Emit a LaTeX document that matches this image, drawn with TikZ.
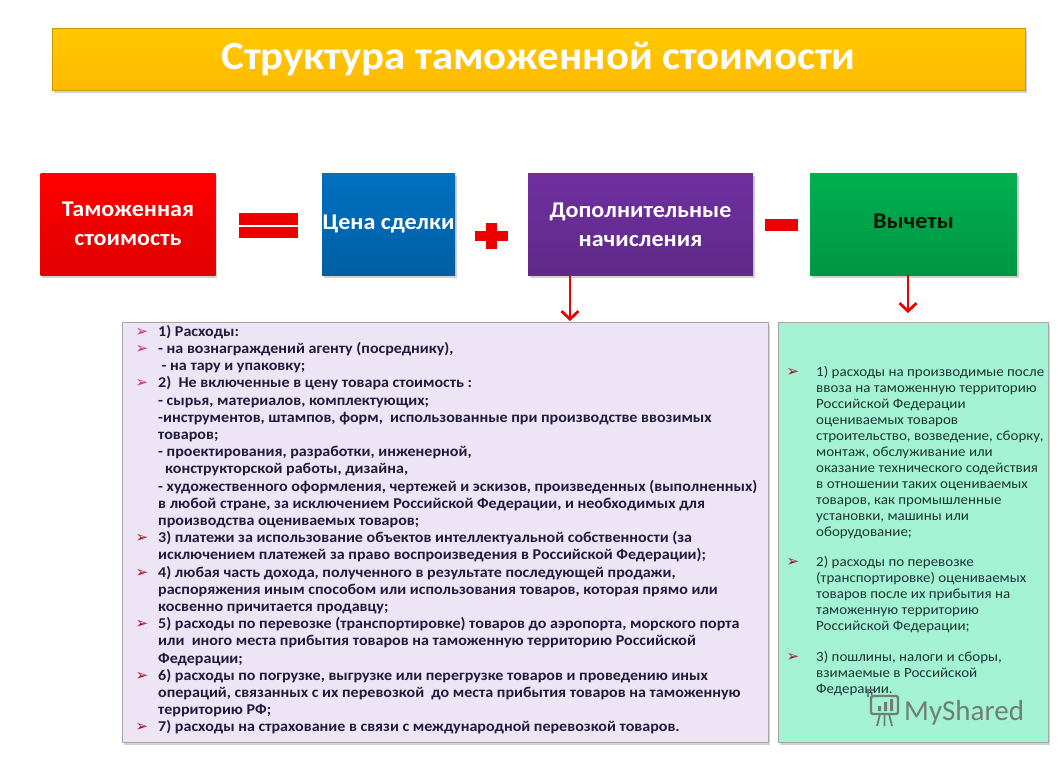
\documentclass[tikz,border=0pt]{standalone}
\usepackage{fontspec}
\setmainfont{Carlito}[FakeStretch=1.07]
\newfontfamily\dejavu{DejaVu Sans}
\newfontfamily\wmfont{Carlito}
\usetikzlibrary{arrows.meta,shadows}
\definecolor{titlegold}{HTML}{FFC000}
\definecolor{boxred}{HTML}{FF0000}
\definecolor{boxblue}{HTML}{0070C0}
\definecolor{boxpurple}{HTML}{7030A0}
\definecolor{boxgreen}{HTML}{00B050}
\definecolor{oprred}{HTML}{EE0000}
\definecolor{lavender}{HTML}{EDE4F5}
\definecolor{mint}{HTML}{A3F2D4}
\definecolor{ltextc}{HTML}{1F1B3A}
\definecolor{rtextc}{HTML}{1C3535}
\definecolor{bulA}{HTML}{C8306A}
\definecolor{bulB}{HTML}{A80F28}
\definecolor{wmark}{HTML}{6F7E78}
\newcommand\BA{\llap{\textcolor{bulA}{\dejavu\bfseries\fontsize{15}{15}\selectfont ➢}\hspace{10pt}}}
\newcommand\BB{\llap{\textcolor{bulB}{\dejavu\bfseries\fontsize{15}{15}\selectfont ➢}\hspace{10pt}}}
\newcommand\BR{\llap{\textcolor{bulB}{\dejavu\bfseries\fontsize{15}{15}\selectfont ➢}\hspace{17pt}}}
\tikzset{
  shad/.style={drop shadow={shadow xshift=1.5pt,shadow yshift=-2.5pt,opacity=0.35}},
  titlebar/.style={shad,rectangle,inner sep=0,minimum width=973pt,minimum height=62pt,
    top color=titlegold!85!yellow,bottom color=titlegold!90!orange,draw=titlegold!80!black,line width=0.4pt,
    text=white,font=\fontsize{40}{42}\selectfont\bfseries},
  opbox/.style={shad,rectangle,inner sep=0,minimum height=102pt,align=center,
    font=\fontsize{22.5}{29}\selectfont\bfseries,text=white},
  listbox/.style={shad,rectangle,inner sep=0,minimum height=420pt,draw=black!35,line width=0.8pt},
  ltext/.style={inner sep=0,align=left,text=ltextc,font=\fontsize{15}{17.2}\selectfont\bfseries},
  rtext/.style={inner sep=0,align=left,text=rtextc,font=\fontsize{14}{16}\selectfont},
  opbar/.style={rectangle,inner sep=0,fill=oprred,draw=none},
  redarrow/.style={draw=oprred,line width=2.8pt,-{Straight Barb[length=8pt,width=17pt]}},
}
\begin{document}
\begin{tikzpicture}[x=1pt,y=-1pt]
\useasboundingbox (0,0) rectangle (1058,756);
\fill[white] (0,0) rectangle (1058,756);

% title
\node[titlebar] (title) at (538.5,59) {Структура таможенной стоимости};

% formula boxes
\node[opbox,minimum width=175pt,top color=boxred,bottom color=boxred!88!black] (box1) at (128,224) {Таможенная\\стоимость};
\node[opbox,minimum width=133pt,top color=boxblue,bottom color=boxblue!85!black] (box2) at (388.5,224) {Цена сделки};
\node[opbox,minimum width=225pt,top color=boxpurple,bottom color=boxpurple!85!black] (box3) at (640.5,224.5) {Дополнительные\\начисления};
\node[opbox,minimum width=207pt,top color=boxgreen,bottom color=boxgreen!85!black,text=black!90!green] (box4) at (913.5,224) {\raisebox{6pt}{Вычеты}};

% operators
\node[opbar,minimum width=59pt,minimum height=12pt] (eqa) at (268.5,218.5) {};
\node[opbar,minimum width=59pt,minimum height=11pt] (eqb) at (268.5,232.5) {};
\node[opbar,minimum width=33pt,minimum height=10pt] (plh) at (491.5,236) {};
\node[opbar,minimum width=11pt,minimum height=26pt] (plv) at (491.5,236) {};
\node[opbar,minimum width=33pt,minimum height=12pt] (minus) at (781.5,225) {};

% list boxes
\node[listbox,minimum width=646pt,fill=lavender] (lbox) at (445,532) {};
\node[listbox,minimum width=270pt,fill=mint] (rbox) at (913,532) {};

% arrows
\coordinate (a1end) at (570,321);
\coordinate (a2end) at (908,313);
\draw[redarrow] (box3.south -| a1end) -- (a1end);
\draw[redarrow] (box4.south -| a2end) -- (a2end);

% left list text
\node[ltext,anchor=north west] (ltx) at (158,325) {%
\BA 1) Расходы:\\
\BA - на вознаграждений агенту (посреднику),\\
\hspace*{3.5pt}- на тару и упаковку;\\
\BA 2)\ \ Не включенные в цену товара стоимость :\\
- сырья, материалов, комплектующих;\\
-инструментов, штампов, форм,\ \ использованные при производстве ввозимых\\
товаров;\\
- проектирования, разработки, инженерной,\\
\hspace*{7pt}конструкторской работы, дизайна,\\
- художественного оформления, чертежей и эскизов, произведенных (выполненных)\\
в любой стране, за исключением Российской Федерации, и необходимых для\\
производства оцениваемых товаров;\\
\BB 3) платежи за использование объектов интеллектуальной собственности (за\\
исключением платежей за право воспроизведения в Российской Федерации);\\
\BB 4) любая часть дохода, полученного в результате последующей продажи,\\
распоряжения иным способом или использования товаров, которая прямо или\\
косвенно причитается продавцу;\\
\BB 5) расходы по перевозке (транспортировке) товаров до аэропорта, морского порта\\
или\ \ иного места прибытия товаров на таможенную территорию Российской\\
Федерации;\\
\BB 6) расходы по погрузке, выгрузке или перегрузке товаров и проведению иных\\
операций, связанных с их перевозкой\ \ до места прибытия товаров на таможенную\\
территорию РФ;\\
\BB 7) расходы на страхование в связи с международной перевозкой товаров.};

% right list text
\node[rtext,anchor=north west] (rtx) at (816,366) {%
\BR 1) расходы на производимые после\\
ввоза на таможенную территорию\\
Российской Федерации\\
оцениваемых товаров\\
строительство, возведение, сборку,\\
монтаж, обслуживание или\\
оказание технического содействия\\
в отношении таких оцениваемых\\
товаров, как промышленные\\
установки, машины или\\
оборудование;\\[14pt]
\BR 2) расходы по перевозке\\
(транспортировке) оцениваемых\\
товаров после их прибытия на\\
таможенную территорию\\
Российской Федерации;\\[15pt]
\BR 3) пошлины, налоги и сборы,\\
взимаемые в Российской\\
Федерации.};

% watermark
\node[anchor=base west,inner sep=0,text=wmark,font=\wmfont\fontsize{29}{30}\selectfont] (wm) at (904,720) {MyShared};
\draw[wmark,line width=2.2pt,rounded corners=1.5pt] (871,696) rectangle (898,714);
\draw[wmark,line width=2pt] (868,697) -- (868,690) -- (874,690);
\fill[wmark] (878,706) rectangle (881,711) (884,702) rectangle (887,711) (890,699) rectangle (893,711);
\draw[wmark,line width=1.8pt] (880,714) -- (877,726) (884.5,714) -- (884.5,726) (889,714) -- (892,726);
\end{tikzpicture}
\end{document}
